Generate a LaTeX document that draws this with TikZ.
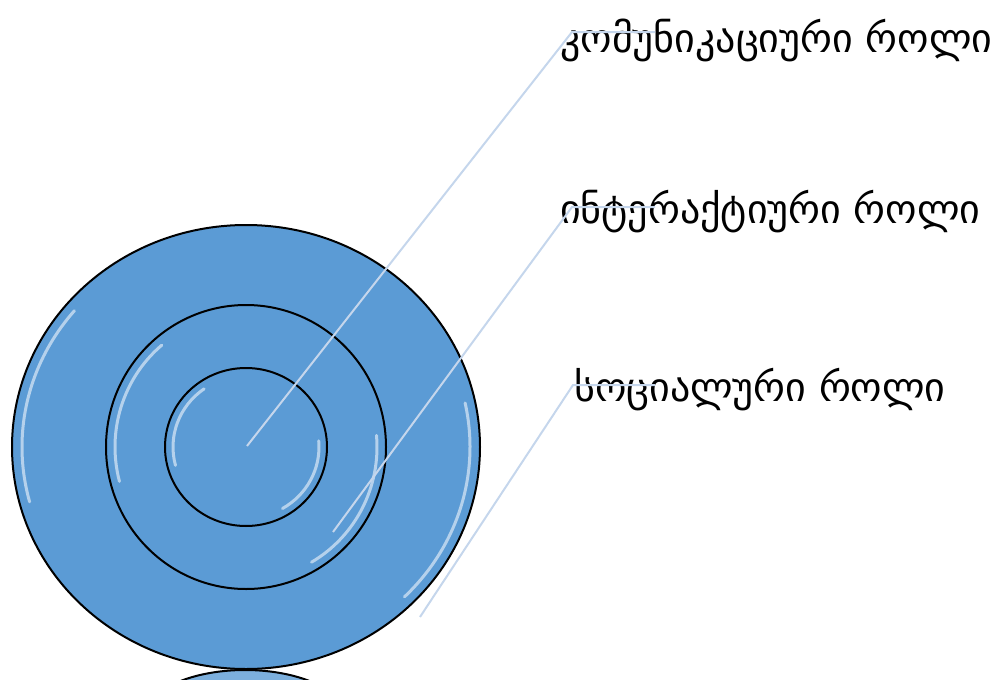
\documentclass[tikz,border=0pt]{standalone}
\usepackage{fontspec}
\newfontfamily\geofont{DejaVu Sans}
\definecolor{ringblue}{HTML}{5B9BD5}
\definecolor{leader}{HTML}{C5D6EC}
\begin{document}
\begin{tikzpicture}[x=1pt,y=-1pt,
  ring/.style={fill=ringblue,draw=black,line width=2pt},
  hl/.style={white,opacity=0.55,line width=3pt,line cap=round},
  leaderline/.style={leader,line width=2pt},
  lbl/.style={anchor=west,inner sep=0pt,font=\geofont\fontsize{40}{40}\selectfont}]
\useasboundingbox (0,0) rectangle (1007,680);
\begin{scope}
\clip (0,0) rectangle (1007,680);
\draw[ring,fill=ringblue!80!white] (245,720) ellipse [x radius=103pt, y radius=50pt];
\end{scope}
\coordinate (c) at (246,447);
\draw[ring] (c) ellipse [x radius=234pt, y radius=222pt];
\draw[hl] ([shift={(140:224pt and 212pt)}]c) arc[start angle=140, end angle=195, x radius=224pt, y radius=212pt];
\draw[hl] ([shift={(-45:224pt and 212pt)}]c) arc[start angle=-45, end angle=12, x radius=224pt, y radius=212pt];
\draw[ring] (c) ellipse [x radius=140pt, y radius=142pt];
\draw[hl] ([shift={(130:131pt and 133pt)}]c) arc[start angle=130, end angle=195, x radius=131pt, y radius=133pt];
\draw[hl] ([shift={(-60:131pt and 133pt)}]c) arc[start angle=-60, end angle=5, x radius=131pt, y radius=133pt];
\draw[ring] (c) ellipse [x radius=81pt, y radius=79pt];
\draw[hl] ([shift={(125:73pt and 71pt)}]c) arc[start angle=125, end angle=195, x radius=73pt, y radius=71pt];
\draw[hl] ([shift={(-60:73pt and 71pt)}]c) arc[start angle=-60, end angle=5, x radius=73pt, y radius=71pt];
\node[lbl] (t1) at (560,40) {კომუნიკაციური როლი};
\node[lbl] (t2) at (560,212) {ინტერაქტიური როლი};
\node[lbl] (t3) at (574,390) {სოციალური როლი};
\coordinate (s1) at (247,446);
\coordinate (s2) at (333,532);
\coordinate (s3) at (420,617);
\coordinate (k1) at (572,32);
\coordinate (k2) at (572,207);
\coordinate (k3) at (573,385);
\coordinate (e1) at (655,32);
\coordinate (e2) at (655,207);
\coordinate (e3) at (655,385);
\draw[leaderline] (s1) -- (k1) -- (e1);
\draw[leaderline] (s2) -- (k2) -- (e2);
\draw[leaderline] (s3) -- (k3) -- (e3);
\end{tikzpicture}
\end{document}
